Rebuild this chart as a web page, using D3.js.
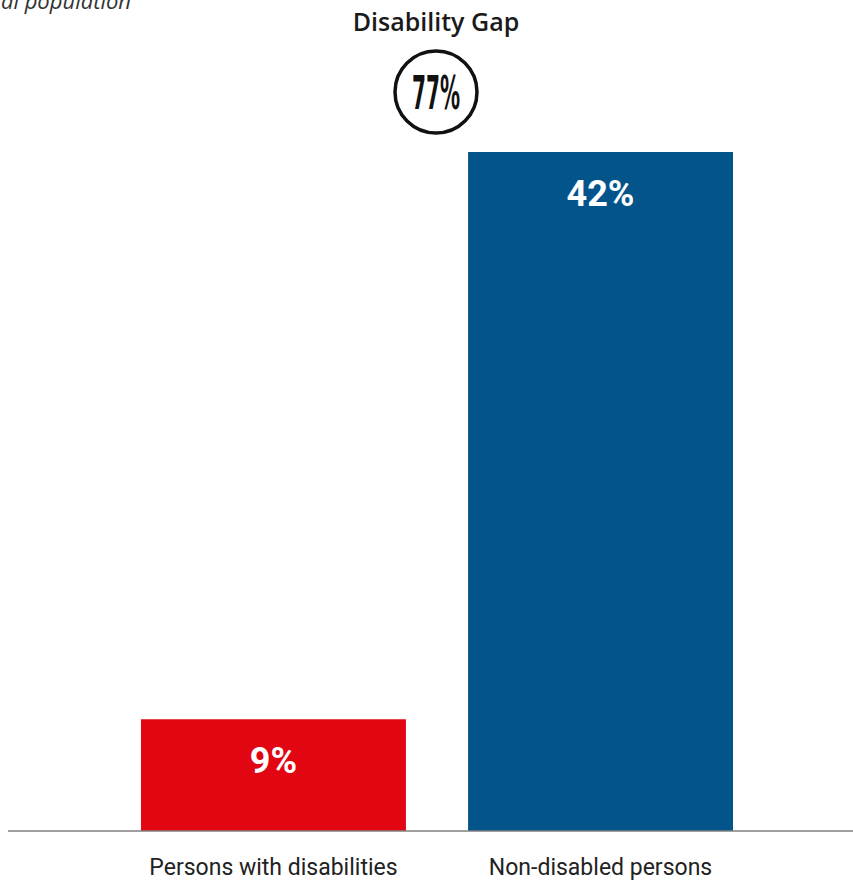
<!DOCTYPE html>
<html>
<head>
<meta charset="utf-8">
<script src="https://cdn.jsdelivr.net/npm/d3@7"></script>
<style>
  body { margin: 0; background: #fff; }
  svg { display: block; font-family: Roboto, "Open Sans", sans-serif; }
</style>
</head>
<body>
<svg width="853" height="881"></svg>
<script>
// Data
var categories = ["Persons with disabilities", "Non-disabled persons"];
var values = [9, 42];
var valueLabels = ["9%", "42%"];
var colors = ["#e20613", "#02548b"];
var gapLabel = "77%";

var svg = d3.select("svg"),
  width = +svg.attr("width"),
  height = +svg.attr("height");

var baseY = 831;

// Scales (the source bars do not start from zero, so the domain is shifted)
var x = d3.scaleBand()
  .domain(categories)
  .range([141, 733])
  .paddingInner(0.19)
  .paddingOuter(0);

var y = d3.scaleLinear()
  .domain([2.5, 42])
  .range([baseY, 152]);

// Subtitle, clipped at the left edge like the source
svg.append("text")
  .attr("x", 131)
  .attr("y", 9)
  .attr("text-anchor", "end")
  .style("font-family", "'Open Sans', sans-serif")
  .style("font-style", "italic")
  .style("font-size", "22px")
  .style("fill", "#333")
  .text("% of the total population");

// Title
svg.append("text")
  .attr("x", 436)
  .attr("y", 31)
  .attr("text-anchor", "middle")
  .style("font-family", "'Open Sans', sans-serif")
  .style("font-size", "25px")
  .style("font-weight", 600)
  .style("fill", "#1a1a1a")
  .text("Disability Gap");

// Gap badge
var badge = svg.append("g").attr("transform", "translate(436,92)");
badge.append("circle")
  .attr("r", 41)
  .attr("fill", "none")
  .attr("stroke", "#111")
  .attr("stroke-width", 3.5);
badge.append("text")
  .attr("y", 17)
  .attr("text-anchor", "middle")
  .attr("textLength", 48)
  .attr("lengthAdjust", "spacingAndGlyphs")
  .style("font-family", "'DejaVu Sans Condensed', 'DejaVu Sans', sans-serif")
  .style("font-weight", "bold")
  .style("font-size", "46px")
  .style("fill", "#111")
  .text(gapLabel);

// Bars
var bars = svg.append("g")
  .selectAll("g")
  .data(categories)
  .enter()
  .append("g");

bars.append("rect")
  .attr("x", function (d) { return x(d); })
  .attr("y", function (d, i) { return y(values[i]); })
  .attr("width", x.bandwidth())
  .attr("height", function (d, i) { return baseY - y(values[i]); })
  .attr("fill", function (d, i) { return colors[i]; });

bars.append("text")
  .attr("x", function (d) { return x(d) + x.bandwidth() / 2; })
  .attr("y", function (d, i) { return y(values[i]) + 54; })
  .attr("text-anchor", "middle")
  .style("font-size", "36px")
  .style("font-weight", "bold")
  .style("fill", "#fff")
  .text(function (d, i) { return valueLabels[i]; });

// Baseline
svg.append("line")
  .attr("x1", 8)
  .attr("x2", width)
  .attr("y1", baseY)
  .attr("y2", baseY)
  .attr("stroke", "#808080")
  .attr("stroke-width", 1.5);

// Category labels
svg.append("g")
  .selectAll("text")
  .data(categories)
  .enter()
  .append("text")
  .attr("x", function (d) { return x(d) + x.bandwidth() / 2; })
  .attr("y", 875)
  .attr("text-anchor", "middle")
  .style("font-size", "23px")
  .style("fill", "#222")
  .text(function (d) { return d; });
</script>
</body>
</html>
